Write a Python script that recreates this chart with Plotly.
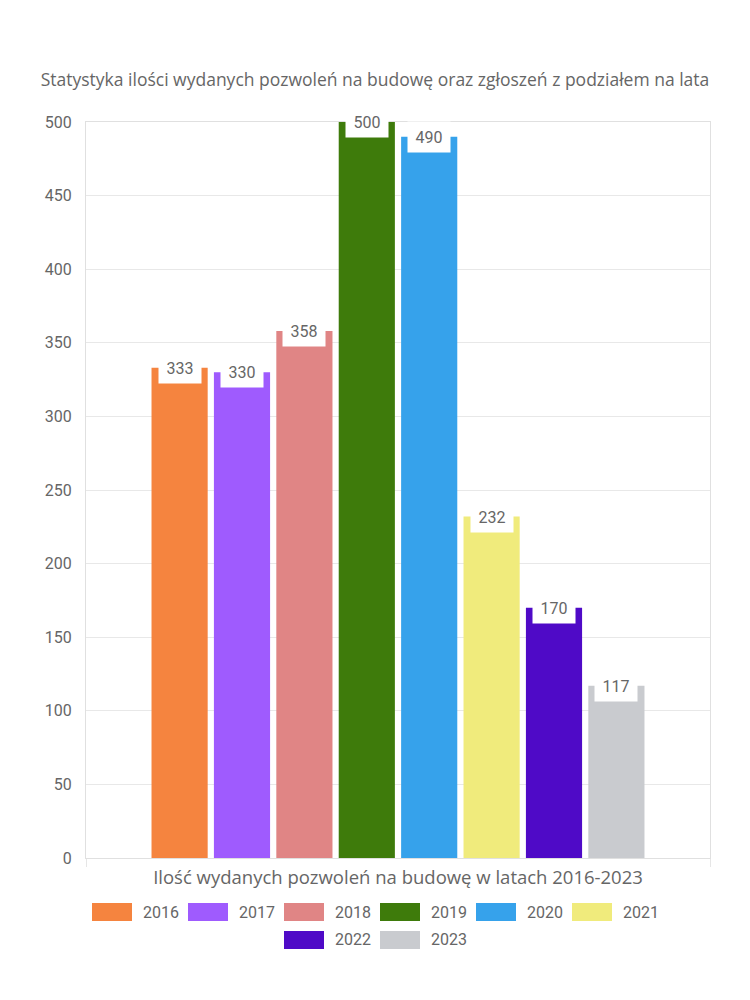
import plotly.graph_objects as go

years = ["2016", "2017", "2018", "2019", "2020", "2021", "2022", "2023"]
values = [333, 330, 358, 500, 490, 232, 170, 117]
colors = ["#F5843F", "#9F5BFE", "#E08585", "#3E7B0B", "#36A2EB", "#F0EB7C", "#4F0AC7", "#C9CBCF"]
title_text = "Statystyka ilości wydanych pozwoleń na budowę oraz zgłoszeń z podziałem na lata"
x_title = "Ilość wydanych pozwoleń na budowę w latach 2016-2023"
y_ticks = [0, 50, 100, 150, 200, 250, 300, 350, 400, 450, 500]

BARGAP = 0.2
GROUPGAP = 0.1
n = len(years)

W, H = 750, 1000
L, R, T, B = 86, 40, 122, 142
PW, PH = W - L - R, H - T - B


def px_x(px):
    return (px - L) / PW


def px_y(py):
    return (H - B - py) / PH


fig = go.Figure()
for yr, v, c in zip(years, values, colors):
    fig.add_trace(go.Bar(x=[0], y=[v], name=yr, marker=dict(color=c, line=dict(width=0)),
                         showlegend=False, hoverinfo="name+y"))

# value labels in white boxes at the top of each bar
slot = (1 - BARGAP) / n
for i, v in enumerate(values):
    xc = -0.5 + BARGAP / 2 + (i + 0.5) * slot
    fig.add_annotation(x=xc, y=v, xref="x", yref="y", text=str(v), showarrow=False,
                       xanchor="center", yanchor="middle", width=42, height=30,
                       bgcolor="white", borderpad=0,
                       font=dict(family="Roboto", size=16, color="#666666"))

# custom legend with wide swatches
row_items = [years[:6], years[6:]]
item_w = 96
for r, items in enumerate(row_items):
    total = len(items) * item_w
    start = 375 - total / 2 + 5
    yc = 912 + r * 28
    for j, yr in enumerate(items):
        k = years.index(yr)
        x0 = start + j * item_w
        fig.add_shape(type="rect", xref="paper", yref="paper",
                      x0=px_x(x0), x1=px_x(x0 + 40),
                      y0=px_y(yc + 9), y1=px_y(yc - 9), fillcolor=colors[k],
                      line=dict(width=0), layer="above")
        fig.add_annotation(x=px_x(x0 + 49), y=px_y(yc), xref="paper", yref="paper",
                           text=yr, showarrow=False, xanchor="left", yanchor="middle",
                           font=dict(family="Roboto", size=16, color="#666666"))

fig.update_layout(
    width=W, height=H,
    margin=dict(l=L, r=R, t=T, b=B, autoexpand=False),
    paper_bgcolor="white", plot_bgcolor="white",
    barmode="group", bargap=BARGAP, bargroupgap=GROUPGAP,
    title=dict(text=title_text, x=0.5, xanchor="center", y=1 - 80 / H, yanchor="middle",
               font=dict(family="Open Sans", size=17.5, color="#666666")),
    showlegend=False,
    xaxis=dict(range=[-0.5, 0.5], tickmode="array", tickvals=[-0.5, 0.5], ticktext=["", ""],
               ticks="outside", ticklen=8, tickcolor="#e6e6e6", showgrid=False,
               showline=True, linecolor="#e0e0e0", mirror=True, zeroline=False,
               title=dict(text=x_title, standoff=2,
                          font=dict(family="Open Sans", size=18.5, color="#666666"))),
    yaxis=dict(range=[0, 500], tickmode="array", tickvals=y_ticks, showgrid=True,
               gridcolor="#e8e8e8", zeroline=False, showline=True, linecolor="#e0e0e0",
               mirror=True, ticks="", ticklabelstandoff=10,
               tickfont=dict(family="Roboto", size=16, color="#666666")),
)

fig.write_html("out.html")
